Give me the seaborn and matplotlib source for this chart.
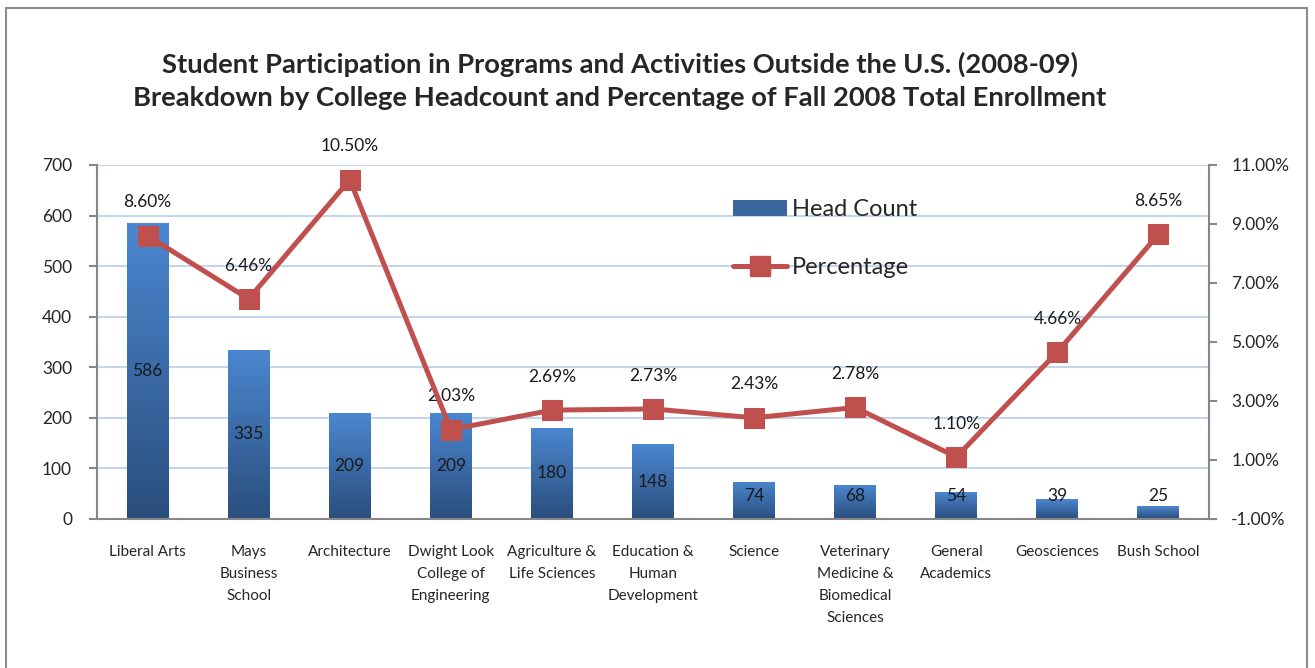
import numpy as np
import pandas as pd
import seaborn as sns
import matplotlib.pyplot as plt
from matplotlib.colors import LinearSegmentedColormap
from matplotlib.patches import Rectangle
from matplotlib.lines import Line2D
from matplotlib.ticker import FuncFormatter, MultipleLocator, FixedLocator

# Data
colleges = ['Liberal Arts', 'Mays\nBusiness\nSchool', 'Architecture',
            'Dwight Look\nCollege of\nEngineering', 'Agriculture &\nLife Sciences',
            'Education &\nHuman\nDevelopment', 'Science',
            'Veterinary\nMedicine &\nBiomedical\nSciences', 'General\nAcademics',
            'Geosciences', 'Bush School']
head_count = [586, 335, 209, 209, 180, 148, 74, 68, 54, 39, 25]
percentage = [8.60, 6.46, 10.50, 2.03, 2.69, 2.73, 2.43, 2.78, 1.10, 4.66, 8.65]
pct_ticks = [-1, 1, 3, 5, 7, 9, 11]

df = pd.DataFrame({'College': colleges, 'Head Count': head_count, 'Percentage': percentage})

sns.set_style('white')
plt.rcParams['font.family'] = ['Lato', 'DejaVu Sans']

fig = plt.figure(figsize=(13.15, 6.68), dpi=100)
ax = fig.add_axes([0.0738, 0.2231, 0.8456, 0.5299])

sns.barplot(data=df, x='College', y='Head Count', ax=ax, width=0.415,
            color='#4F81BD', saturation=1)

# vertical gradient inside each bar
cmap = LinearSegmentedColormap.from_list('bar', ['#2A4E7D', '#4B87D0'])
grad = np.linspace(0, 1, 256).reshape(-1, 1)
for p in ax.patches:
    x0, y0 = p.get_x(), p.get_y()
    w, h = p.get_width(), p.get_height()
    im = ax.imshow(grad, extent=[x0, x0 + w, y0, y0 + h], origin='lower',
                   cmap=cmap, aspect='auto', zorder=2)
    im.set_clip_path(p)
    p.set_facecolor('none')
    p.set_edgecolor('none')

ax.set_xlim(-0.5, len(colleges) - 0.5)
ax.set_ylim(0, 700)
ax.yaxis.set_major_locator(MultipleLocator(100))
ax.grid(axis='y', color='#C6D6EA', linewidth=1.5, zorder=0)
ax.set_axisbelow(True)
ax.set_xlabel('')
ax.set_ylabel('')

# head count labels in the bars
for i, v in enumerate(head_count):
    ax.text(i, max(v / 2, 45), str(v), ha='center', va='center',
            fontsize=12.5, color='#1A1A1A', zorder=5)

# percentage line on the secondary axis
ax2 = ax.twinx()
sns.lineplot(x=np.arange(len(colleges)), y=percentage, ax=ax2, color='#C0504D',
             linewidth=3.6, marker='s', markersize=14, markeredgecolor='#C0504D',
             zorder=4)
ax2.set_ylim(-1, 11)
ax2.yaxis.set_major_locator(FixedLocator(pct_ticks))
ax2.yaxis.set_major_formatter(FuncFormatter(lambda v, _: f'{v:.2f}%'))
ax2.set_xlim(-0.5, len(colleges) - 0.5)
for i, v in enumerate(percentage):
    ax2.annotate(f'{v:.2f}%', (i, v), xytext=(0, 24), textcoords='offset points',
                 ha='center', va='center', fontsize=12.5, color='#1A1A1A')

# spines and ticks
spine_c = '#878787'
for a in (ax, ax2):
    for s in a.spines.values():
        s.set_visible(False)
ax.spines['left'].set_visible(True)
ax.spines['bottom'].set_visible(True)
ax2.spines['right'].set_visible(True)
for s in (ax.spines['left'], ax.spines['bottom'], ax2.spines['right']):
    s.set_color(spine_c)
    s.set_linewidth(1.5)

ax.set_xticks(range(len(colleges)))
ax.set_xticklabels(colleges, fontsize=11, linespacing=1.72, va='top')
ax.xaxis.set_minor_locator(FixedLocator(np.arange(-0.5, len(colleges), 1)))
ax.tick_params(axis='x', which='major', length=0, pad=19)
ax.tick_params(axis='x', which='minor', length=6, width=1.5, color=spine_c, direction='out')
ax.tick_params(axis='y', length=6, width=1.5, color=spine_c, direction='out',
               labelsize=12.5, pad=12, left=True)
ax2.tick_params(axis='y', length=6, width=1.5, color=spine_c, direction='out',
                labelsize=12.5, pad=10, right=True)

# legend
handles = [Rectangle((0, 0), 1, 1, facecolor='#3A679F', edgecolor='none'),
           Line2D([], [], color='#C0504D', linewidth=3.6, marker='s',
                  markersize=14, markeredgecolor='#C0504D')]
ax2.legend(handles, ['Head Count', 'Percentage'], loc='upper left',
           bbox_to_anchor=(0.563, 0.93), frameon=False, fontsize=17,
           handlelength=2.3, handletextpad=0.2, labelspacing=1.55,
           borderaxespad=0)

fig.suptitle('Student Participation in Programs and Activities Outside the U.S. (2008-09)\n'
             'Breakdown by College Headcount and Percentage of Fall 2008 Total Enrollment',
             x=0.4715, y=0.922, fontsize=19.7, fontweight='bold', linespacing=1.45)

# outer chart border
fig.patches.append(Rectangle((6 / 1315, -0.02), 1301 / 1315, 1 - 8 / 668 + 0.02,
                             transform=fig.transFigure, fill=False,
                             edgecolor='#8C8C8C', linewidth=1.5))

fig.savefig('out.png', dpi=100)
